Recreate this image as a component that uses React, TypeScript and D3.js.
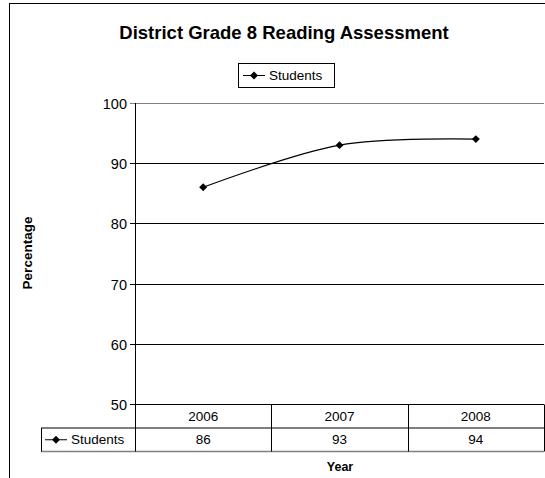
import { useRef, useEffect } from "react";
import * as d3 from "d3";

const YEARS = ["2006", "2007", "2008"];
const STUDENTS = [86, 93, 94];
const Y_TICKS = [50, 60, 70, 80, 90, 100];
const SERIES_NAME = "Students";

const WIDTH = 545;
const HEIGHT = 478;
const FONT = "'Liberation Sans', Arial, sans-serif";

export default function App() {
  const svgRef = useRef<SVGSVGElement>(null);

  useEffect(() => {
    if (!svgRef.current) return;
    const svg = d3.select(svgRef.current);
    svg.selectAll("*").remove();

    const plot = { left: 135, right: 544, top: 103, bottom: 404 };
    const rowH = 23.5;

    const x = d3.scaleBand<string>().domain(YEARS).range([plot.left, plot.right]);
    const y = d3.scaleLinear().domain([50, 100]).range([plot.bottom, plot.top]);

    // chart frame
    svg.append("rect")
      .attr("x", 9.5).attr("y", 3.5)
      .attr("width", WIDTH + 20).attr("height", HEIGHT + 20)
      .attr("fill", "#fff").attr("stroke", "#000");

    // title
    svg.append("text")
      .attr("x", 284).attr("y", 39)
      .attr("text-anchor", "middle")
      .style("font-family", FONT).style("font-size", "18.5px").style("font-weight", "bold")
      .text("District Grade 8 Reading Assessment");

    const diamond = d3.symbol().type(d3.symbolDiamond2).size(40);

    const drawKey = (g: d3.Selection<SVGGElement, unknown, null, undefined>, x0: number, cy: number) => {
      g.append("line")
        .attr("x1", x0).attr("x2", x0 + 22)
        .attr("y1", cy).attr("y2", cy)
        .attr("stroke", "#000").attr("stroke-width", 1);
      g.append("path")
        .attr("d", diamond()!)
        .attr("transform", `translate(${x0 + 11},${cy})`)
        .attr("fill", "#000");
      g.append("text")
        .attr("x", x0 + 26).attr("y", cy)
        .attr("dominant-baseline", "central")
        .style("font-family", FONT).style("font-size", "13.5px")
        .text(SERIES_NAME);
    };

    // legend
    const legend = svg.append("g");
    legend.append("rect")
      .attr("x", 238.5).attr("y", 63.5).attr("width", 96).attr("height", 24)
      .attr("fill", "#fff").attr("stroke", "#000");
    drawKey(legend, 243, 75.5);

    // gridlines + y ticks
    const grid = svg.append("g");
    Y_TICKS.forEach((t) => {
      const yy = Math.round(y(t)) + 0.5;
      grid.append("line")
        .attr("x1", plot.left - 5).attr("x2", plot.right)
        .attr("y1", yy).attr("y2", yy)
        .attr("stroke", t === 100 ? "#808080" : "#000");
      grid.append("text")
        .attr("x", 127).attr("y", yy)
        .attr("text-anchor", "end").attr("dominant-baseline", "central")
        .style("font-family", FONT).style("font-size", "14.5px")
        .text(t);
    });
    grid.append("line")
      .attr("x1", plot.left + 0.5).attr("x2", plot.left + 0.5)
      .attr("y1", plot.top).attr("y2", plot.bottom)
      .attr("stroke", "#000");

    // data table
    const table = svg.append("g");
    const r1 = plot.bottom + 0.5;
    const r2 = r1 + rowH;
    const r3 = r2 + rowH;
    table.append("line").attr("x1", plot.left).attr("x2", plot.right).attr("y1", r1).attr("y2", r1).attr("stroke", "#000");
    table.append("line").attr("x1", 41).attr("x2", plot.right).attr("y1", r2).attr("y2", r2).attr("stroke", "#000");
    table.append("line").attr("x1", 41).attr("x2", plot.right).attr("y1", r3).attr("y2", r3).attr("stroke", "#808080").attr("stroke-width", 1.5);
    table.append("line").attr("x1", 41.5).attr("x2", 41.5).attr("y1", r2).attr("y2", r3).attr("stroke", "#000");
    [...YEARS.map((d) => x(d)!), plot.right].forEach((xx, i) => {
      const px = Math.round(xx) + 0.5;
      table.append("line")
        .attr("x1", px).attr("x2", px)
        .attr("y1", i === 0 ? plot.top : r1).attr("y2", r3)
        .attr("stroke", "#000");
    });
    YEARS.forEach((yr, i) => {
      const cx = x(yr)! + x.bandwidth() / 2;
      table.append("text")
        .attr("x", cx).attr("y", r1 + rowH / 2)
        .attr("text-anchor", "middle").attr("dominant-baseline", "central")
        .style("font-family", FONT).style("font-size", "13.5px")
        .text(yr);
      table.append("text")
        .attr("x", cx).attr("y", r2 + rowH / 2)
        .attr("text-anchor", "middle").attr("dominant-baseline", "central")
        .style("font-family", FONT).style("font-size", "13.5px")
        .text(STUDENTS[i]);
    });
    drawKey(table, 45, r2 + rowH / 2);

    // axis titles
    svg.append("text")
      .attr("x", 340).attr("y", 467)
      .attr("text-anchor", "middle").attr("dominant-baseline", "central")
      .style("font-family", FONT).style("font-size", "12.5px").style("font-weight", "bold")
      .text("Year");
    svg.append("text")
      .attr("transform", "translate(27,253) rotate(-90)")
      .attr("text-anchor", "middle").attr("dominant-baseline", "central")
      .style("font-family", FONT).style("font-size", "13.5px").style("font-weight", "bold")
      .text("Percentage");

    // series
    const pts: [number, number][] = YEARS.map((yr, i) => [x(yr)! + x.bandwidth() / 2, y(STUDENTS[i])]);
    const line = d3.line().curve(d3.curveCardinal.tension(0));
    svg.append("path")
      .attr("d", line(pts)!)
      .attr("fill", "none").attr("stroke", "#000").attr("stroke-width", 1.2);
    svg.selectAll(".marker")
      .data(pts)
      .enter()
      .append("path")
      .attr("d", diamond()!)
      .attr("transform", (d) => `translate(${d[0]},${d[1]})`)
      .attr("fill", "#000");
  }, []);

  return (
    <div style={{ position: "absolute", left: 0, top: 0 }}>
      <svg ref={svgRef} width={WIDTH} height={HEIGHT} style={{ display: "block" }} />
    </div>
  );
}
